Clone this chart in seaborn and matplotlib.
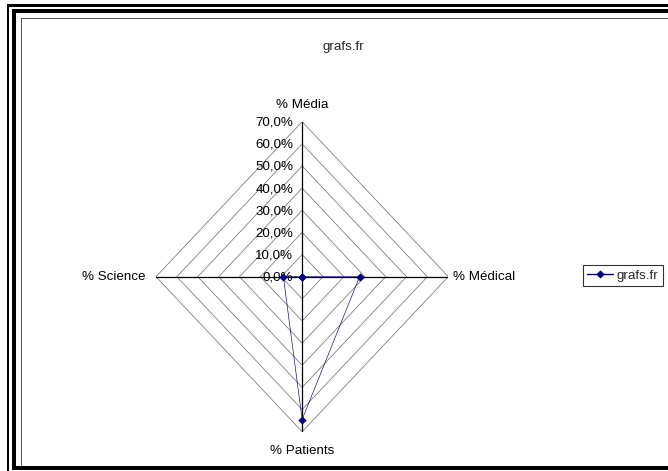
import numpy as np
import pandas as pd
import matplotlib
matplotlib.use("Agg")
import matplotlib.pyplot as plt
from matplotlib.patches import Rectangle
import seaborn as sns

# ---- data ----
categories = ["% Média", "% Médical", "% Patients", "% Science"]
values = [0.0, 27.5, 64.5, 9.0]
series_name = "grafs.fr"
title = "grafs.fr"
tick_values = [0, 10, 20, 30, 40, 50, 60, 70]
tick_labels = ["0,0%", "10,0%", "20,0%", "30,0%", "40,0%", "50,0%", "60,0%", "70,0%"]
rmax = 70

sns.set_style("white")
plt.rcParams["font.family"] = ["Liberation Sans", "DejaVu Sans"]
FS = 9.6

W, H = 668, 471
fig = plt.figure(figsize=(W / 100, H / 100), dpi=100)
fig.patch.set_facecolor("white")

def fig_rect(x0, y0, x1, y1, color):
    # pixel coords with origin top-left
    fig.add_artist(Rectangle((x0 / W, 1 - y1 / H), (x1 - x0) / W, (y1 - y0) / H,
                             transform=fig.transFigure, facecolor=color,
                             edgecolor="none", zorder=10))

# decorative frame (Excel chart border)
fig_rect(6.7, 4, W, 6.7, "black")
fig_rect(6.7, 4, 8.7, H, "black")
fig_rect(11.7, 9, W, 13.3, "black")
fig_rect(11.7, 9, 16, 469.5, "black")
fig_rect(20.7, 18, W, 19.3, "#555555")
fig_rect(20.7, 18, 22, 466, "#555555")
fig_rect(11.7, 465.7, W, 469.5, "black")

# axes placement (pixel geometry of the radar)
px_left, px_right, px_top, px_bottom = 156, 448.3, 121.7, 431.7
ax = fig.add_axes([px_left / W, 1 - px_bottom / H,
                   (px_right - px_left) / W, (px_bottom - px_top) / H])

n = len(categories)
ang = np.arange(n) * 2 * np.pi / n  # clockwise from top
ux, uy = np.sin(ang), np.cos(ang)

# grid diamonds
for r in tick_values[1:]:
    gx = np.append(r * ux, r * ux[0])
    gy = np.append(r * uy, r * uy[0])
    ax.plot(gx, gy, color="#808080", lw=0.6, zorder=1)
# spokes
for i in range(n):
    ax.plot([0, rmax * ux[i]], [0, rmax * uy[i]], color="black", lw=0.9, zorder=2)

# tick labels on top spoke
for v, lab in zip(tick_values, tick_labels):
    ax.annotate(lab, xy=(0, v), xytext=(-9, -1), textcoords="offset pixels",
                ha="right", va="center", fontsize=FS, color="black", zorder=3)

# category labels
offsets = [((0, 13.5), "center", "baseline"),
           ((5, 0), "left", "center"),
           ((0, -22.5), "center", "baseline"),
           ((-10, 0), "right", "center")]
for i, cat in enumerate(categories):
    (dx, dy), ha, va = offsets[i]
    ax.annotate(cat, xy=(rmax * ux[i], rmax * uy[i]), xytext=(dx, dy),
                textcoords="offset pixels", ha=ha, va=va, fontsize=FS, color="black")

# data polygon
vals = np.array(values)
df = pd.DataFrame({
    "x": np.append(vals * ux, vals[0] * ux[0]),
    "y": np.append(vals * uy, vals[0] * uy[0]),
})
sns.lineplot(data=df, x="x", y="y", sort=False, estimator=None, ax=ax,
             color="#000080", lw=0.45, marker="D", markersize=3.5,
             markeredgecolor="#000080", markerfacecolor="#000080",
             label=series_name, zorder=4)
ax.set_xlim(-rmax, rmax)
ax.set_ylim(-rmax, rmax)
ax.axis("off")

leg = ax.legend(loc="center", bbox_to_anchor=(623 / W, 1 - 275.5 / H),
                bbox_transform=fig.transFigure, fontsize=FS, frameon=True,
                fancybox=False, shadow=False, handlelength=1.9,
                handletextpad=0.3, borderpad=0.35, borderaxespad=0)
leg.get_frame().set_edgecolor("black")
leg.get_frame().set_linewidth(0.8)
for h in leg.get_lines():
    h.set_linewidth(1.0)

fig.text(343 / W, 1 - 50 / H, title, ha="center", va="baseline", fontsize=FS)

fig.savefig("out.png", dpi=100)
